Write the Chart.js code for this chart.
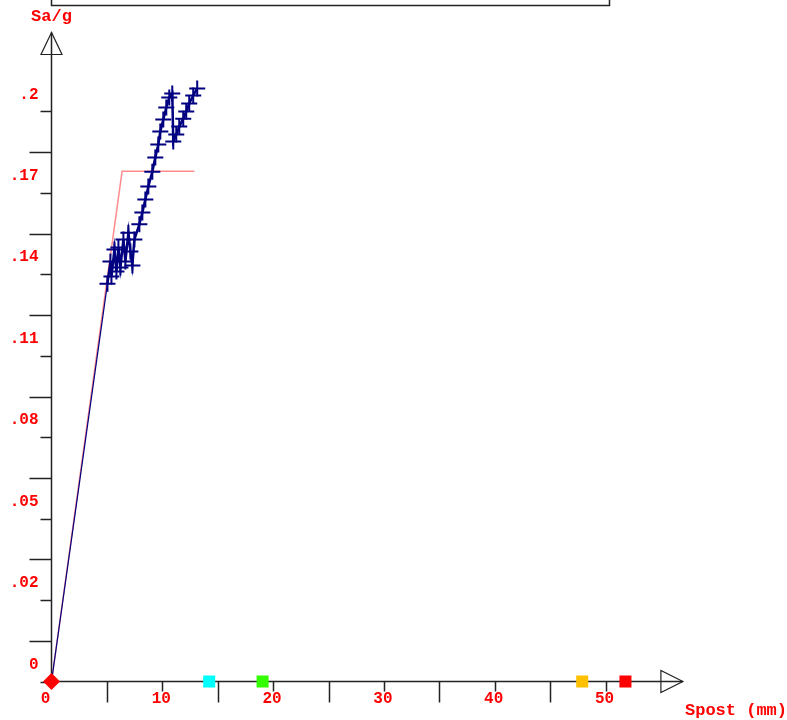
<!DOCTYPE html>
<html>
<head>
<meta charset="utf-8">
<script src="https://cdn.jsdelivr.net/npm/chart.js@4"></script>
<style>
  body { margin: 0; background: #fff; }
  #grafico { display: block; }
</style>
</head>
<body>
<canvas id="grafico" width="787" height="720"></canvas>
<script>
/*------------------- dati -------------------*/

// curva di capacita' (spostamento in mm, Sa/g)
const spost = [0, 5.05, 5.32, 5.41, 5.68, 5.86, 6.04, 6.22, 6.49, 6.67,
  6.94, 7.12, 7.30, 7.48, 7.93, 8.20, 8.47, 8.74, 9.10, 9.37,
  9.64, 9.82, 10.09, 10.36, 10.63, 10.90, 10.99, 11.26, 11.53, 11.89,
  12.16, 12.43, 12.79, 13.15];
const sag = [0, 0.1396, 0.1474, 0.1421, 0.1516, 0.1439, 0.1523, 0.1453, 0.1551, 0.1474,
  0.1575, 0.1509, 0.1460, 0.1551, 0.1604, 0.1646, 0.1691, 0.1737, 0.1789, 0.1839,
  0.1884, 0.1930, 0.1972, 0.2014, 0.2049, 0.2063, 0.1895, 0.1919, 0.1947, 0.1975,
  0.2000, 0.2028, 0.2056, 0.2081];

// bilineare equivalente (rosa)
const bilX = [0, 6.37, 12.9];
const bilY = [0, 0.179, 0.179];

// marcatori sull'asse x
const marcX = [0, 14.23, 19.05, 47.9, 51.8];
const marcY = [0, 0, 0, 0, 0];
const marcColori = ['#ff0000', '#00ffff', '#33ff00', '#ffc000', '#ff0000'];
const marcForme = ['rectRot', 'rect', 'rect', 'rect', 'rect'];

// tacche e etichette
const yTickValori = [0, 0.0286, 0.0571, 0.0857, 0.1143, 0.1429, 0.1714, 0.2];
const yTickEtichette = ['0', '.02', '.05', '.08', '.11', '.14', '.17', '.2'];
const yTickLunghe = [0.0143, 0.0429, 0.0714, 0.1, 0.1286, 0.1571, 0.1857];
const xTickValori = [0, 10, 20, 30, 40, 50];
const xTickEtichette = ['0', '10', '20', '30', '40', '50'];
const xTickLunghe = [5, 15, 25, 35, 45];

/*------------------- assi disegnati a mano -------------------*/

const FONT = 'bold 16px "Liberation Mono", "DejaVu Sans Mono", monospace';

const assiPlugin = {
  id: 'assi',
  beforeDatasetsDraw(chart) {
    const ctx = chart.ctx;
    const xs = chart.scales.x;
    const ys = chart.scales.y;
    const x0 = xs.getPixelForValue(0);
    const y0 = ys.getPixelForValue(0);
    const yTop = ys.top;
    const xRight = xs.right;

    ctx.save();
    ctx.strokeStyle = '#222';
    ctx.lineWidth = 1.5;

    // riquadro in alto (tagliato)
    ctx.strokeRect(51.5, -10, 558, 15.5);

    // linee degli assi
    ctx.beginPath();
    ctx.moveTo(x0, y0);
    ctx.lineTo(x0, yTop - 22);
    ctx.moveTo(x0, y0);
    ctx.lineTo(xRight + 22, y0);
    ctx.stroke();

    // frecce
    ctx.lineWidth = 1.2;
    ctx.beginPath();
    ctx.moveTo(x0, yTop - 22);
    ctx.lineTo(x0 - 10.5, yTop);
    ctx.lineTo(x0 + 10.5, yTop);
    ctx.closePath();
    ctx.moveTo(xRight + 22, y0);
    ctx.lineTo(xRight, y0 - 11);
    ctx.lineTo(xRight, y0 + 11);
    ctx.closePath();
    ctx.stroke();

    // tacche y
    ctx.lineWidth = 1.5;
    ctx.beginPath();
    yTickValori.forEach(v => {
      const p = Math.round(ys.getPixelForValue(v)) + 0.5;
      ctx.moveTo(x0 - 11, p);
      ctx.lineTo(x0, p);
    });
    yTickLunghe.forEach(v => {
      const p = Math.round(ys.getPixelForValue(v)) + 0.5;
      ctx.moveTo(x0 - 22, p);
      ctx.lineTo(x0, p);
    });
    // tacche x
    xTickValori.forEach(v => {
      if (v === 0) return;
      const p = Math.round(xs.getPixelForValue(v)) + 0.5;
      ctx.moveTo(p, y0);
      ctx.lineTo(p, y0 + 10);
    });
    xTickLunghe.forEach(v => {
      const p = Math.round(xs.getPixelForValue(v)) + 0.5;
      ctx.moveTo(p, y0);
      ctx.lineTo(p, y0 + 21);
    });
    ctx.stroke();

    // etichette
    ctx.fillStyle = '#ff0000';
    ctx.font = FONT;
    ctx.textBaseline = 'middle';
    ctx.textAlign = 'right';
    yTickValori.forEach((v, i) => {
      ctx.fillText(yTickEtichette[i], x0 - 13, ys.getPixelForValue(v) - 17);
    });
    ctx.textAlign = 'center';
    xTickValori.forEach((v, i) => {
      const dx = v === 0 ? -6 : -1;
      ctx.fillText(xTickEtichette[i], xs.getPixelForValue(v) + dx, y0 + 17);
    });

    // titoli assi
    ctx.font = 'bold 17px "Liberation Mono", "DejaVu Sans Mono", monospace';
    ctx.fillText('Sa/g', x0, 17);
    ctx.textAlign = 'left';
    ctx.fillText('Spost (mm)', 685, 711);
    ctx.restore();
  }
};

/*------------------- grafico -------------------*/

function disegnaGrafico() {
  const ctx = document.getElementById('grafico').getContext('2d');
  new Chart(ctx, {
    type: 'scatter',
    data: {
      datasets: [
        {
          label: 'marcatori',
          data: marcX.map((x, i) => ({ x: x, y: marcY[i] })),
          showLine: false,
          pointStyle: marcForme,
          pointRadius: [8.5, 8.5, 8.5, 8.5, 8.5],
          pointBackgroundColor: marcColori,
          pointBorderWidth: 0,
          clip: false,
          order: 0
        },
        {
          label: 'curva',
          data: spost.map((x, i) => ({ x: x, y: sag[i] })),
          showLine: true,
          borderColor: '#000080',
          borderWidth: 2.5,
          // il primo tratto (dall'origine) e' sottile
          segment: { borderWidth: c => (c.p0DataIndex === 0 ? 1.2 : 2.5) },
          tension: 0,
          pointStyle: 'cross',
          pointRadius: spost.map((x, i) => (i === 0 ? 0 : 8)),
          pointBorderColor: '#000080',
          pointBorderWidth: 2,
          clip: false,
          order: 1
        },
        {
          label: 'bilineare',
          data: bilX.map((x, i) => ({ x: x, y: bilY[i] })),
          showLine: true,
          borderColor: '#ff8c8c',
          borderWidth: 1.5,
          tension: 0,
          pointRadius: 0,
          clip: false,
          order: 2
        }
      ]
    },
    options: {
      responsive: false,
      animation: false,
      layout: { padding: { left: 51.5, right: 126.1, top: 54.5, bottom: 38.5 } },
      scales: {
        x: { type: 'linear', min: 0, max: 55, display: false },
        y: { type: 'linear', min: 0, max: 0.22, display: false }
      },
      plugins: { legend: { display: false }, tooltip: { enabled: false } }
    },
    plugins: [assiPlugin]
  });
}

disegnaGrafico();
</script>
</body>
</html>
